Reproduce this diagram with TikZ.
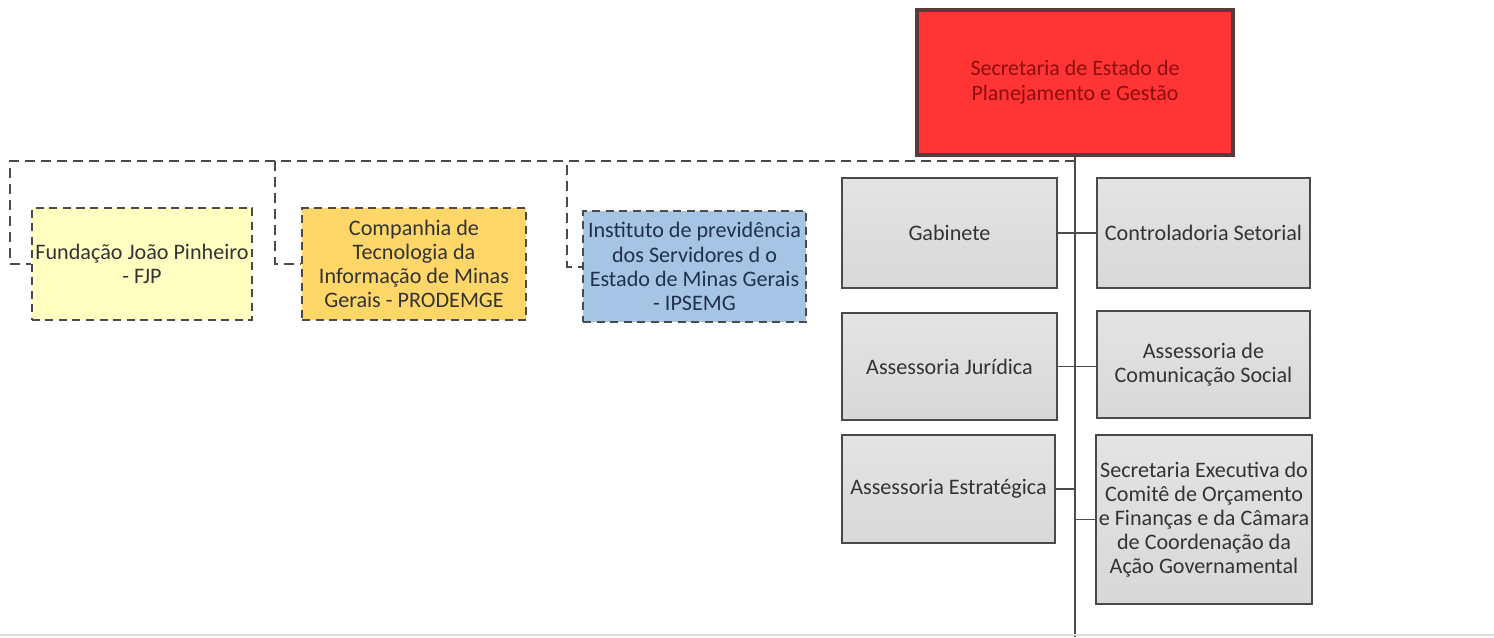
\documentclass[tikz,border=0pt]{standalone}
\usepackage{fontspec}
\setmainfont{Carlito}
\definecolor{secred}{HTML}{FF3434}
\definecolor{secframe}{HTML}{5A3A3A}
\definecolor{sectext}{HTML}{8E0E0E}
\definecolor{fjpfill}{HTML}{FFFFC2}
\definecolor{prodfill}{HTML}{FFD768}
\definecolor{ipsfill}{HTML}{A6C4E4}
\definecolor{ipstext}{HTML}{1F3050}
\definecolor{unitgray}{HTML}{D8D8D8}
\definecolor{unittext}{HTML}{333333}
\definecolor{linkline}{HTML}{4A4A4A}
\begin{document}
\begin{tikzpicture}[x=0.2mm,y=-0.2mm,
		unit/.style={draw=linkline,line width=0.4mm,top color=unitgray!70,bottom color=unitgray,text=unittext,align=center,inner sep=0.5mm,font=\fontsize{12.6}{13.75}\selectfont},
		linked/.style={draw=linkline,line width=0.4mm,dash pattern=on 1.6mm off 1.1mm,text=unittext,align=center,inner sep=0.3mm,font=\fontsize{12.6}{13.75}\selectfont},
		spine/.style={draw=linkline,line width=0.5mm},
		dashlink/.style={draw=linkline,line width=0.4mm,dash pattern=on 2mm off 1.2mm}]
		\useasboundingbox (0,0) rectangle (1494,637);
		% secretaria
		\node[draw=secframe,line width=0.8mm,fill=secred,text=sectext,align=center,font=\fontsize{12.5}{14.2}\selectfont,minimum width=63.2mm,minimum height=29mm] (seplag) at (1075,82.5) {Secretaria de Estado de\\Planejamento e Gestão};
		% vinculadas
		\node[linked,fill=fjpfill,minimum width=44mm,minimum height=22.4mm] (fjp) at (142,264) {Fundação João Pinheiro\\- FJP};
		\node[linked,fill=prodfill,minimum width=44.8mm,minimum height=22.4mm] (prodemge) at (414,264) {Companhia de\\Tecnologia da\\Informação de Minas\\Gerais - PRODEMGE};
		\node[linked,fill=ipsfill,text=ipstext,minimum width=44.6mm,minimum height=22.2mm] (ipsemg) at (694.5,266.5) {Instituto de previdência\\dos Servidores d o\\Estado de Minas Gerais\\- IPSEMG};
		% unidades
		\node[unit,minimum width=43mm,minimum height=22mm] (gab) at (949.5,233) {Gabinete};
		\node[unit,minimum width=42.6mm,minimum height=22mm] (cont) at (1203.5,233) {Controladoria Setorial};
		\node[unit,minimum width=43mm,minimum height=21.4mm] (jur) at (949.5,366.5) {Assessoria Jurídica};
		\node[unit,minimum width=42.6mm,minimum height=21.4mm] (com) at (1203.5,364.5) {Assessoria de\\Comunicação Social};
		\node[unit,minimum width=42.6mm,minimum height=21.6mm] (estr) at (948.5,489) {Assessoria Estratégica};
		\node[unit,minimum width=42.8mm,minimum height=33.8mm] (exec) at (1204,519.5) {Secretaria Executiva do\\Comitê de Orçamento\\e Finanças e da Câmara\\de Coordenação da\\Ação Governamental};
		% ligacoes
		\coordinate (hub) at (1075,161);
		\coordinate (base) at (1075,637);
		\coordinate (kfjp) at (10,161);
		\coordinate (kprod) at (275,161);
		\coordinate (kips) at (567,161);
		\draw[spine] (seplag.south) -- (base);
		\draw[dashlink] (hub) -- (kfjp) |- (fjp.west);
		\draw[dashlink] (hub) -- (kprod) |- (prodemge.west);
		\draw[dashlink] (hub) -- (kips) |- (ipsemg.west);
		\draw[spine,line width=0.3mm] (gab.east) -- (cont.west);
		\draw[spine,line width=0.3mm] (jur.east) -- (jur.east -| com.west);
		\draw[spine,line width=0.3mm] (estr.east) -- (estr.east -| base);
		\draw[spine,line width=0.3mm] (exec.west) -- (exec.west -| base);
		\draw[gray!25,line width=0.3mm] (0,635) -- (1494,635);
	\end{tikzpicture}
\end{document}
